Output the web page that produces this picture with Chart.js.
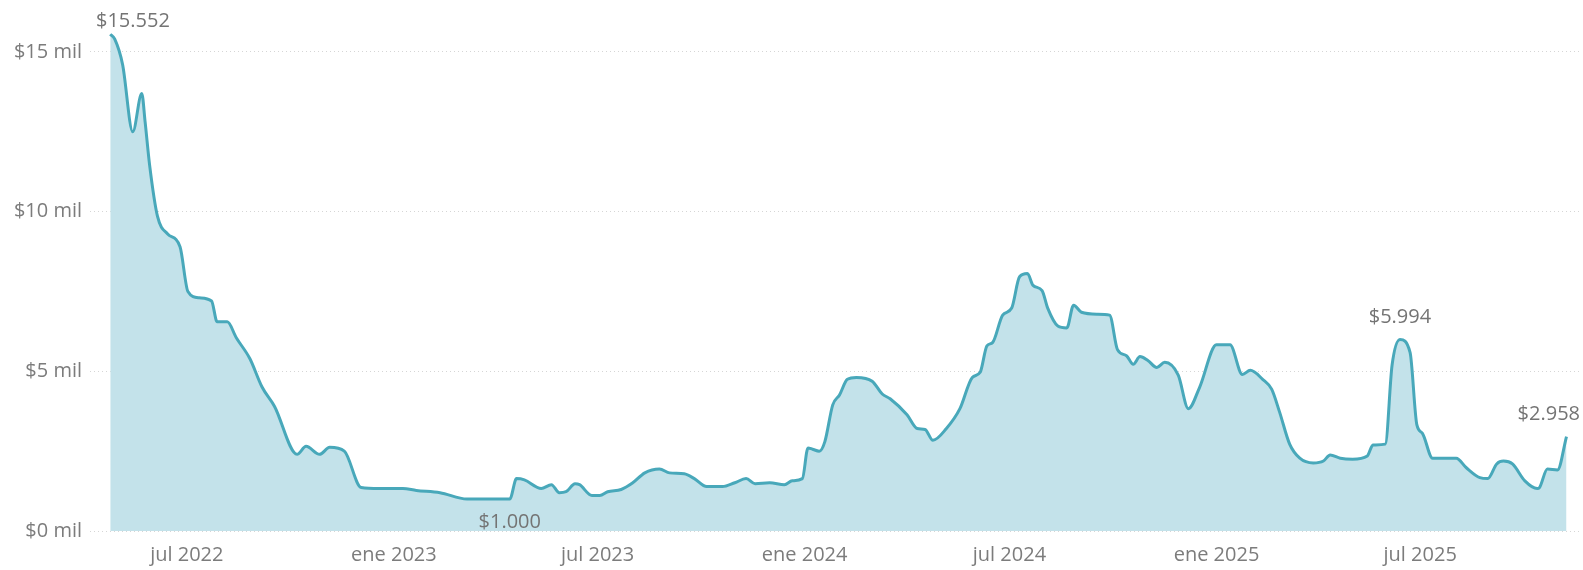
<!DOCTYPE html>
<html>
<head>
<meta charset="utf-8">
<script src="https://cdn.jsdelivr.net/npm/chart.js@4.4.1/dist/chart.umd.min.js"></script>
<style>
  html, body { margin: 0; padding: 0; background: #fff; }
  #wrap { width: 1583px; height: 570px; }
</style>
</head>
<body>
<div id="wrap"><canvas id="chart" width="1583" height="570"></canvas></div>
<script>
// Fechas y valores (dolares)
var dates = [
  '2022-04-24','2022-04-28','2022-05-05','2022-05-14','2022-05-22','2022-05-25','2022-05-29','2022-06-05',
  '2022-06-14','2022-06-25','2022-07-02','2022-07-12','2022-07-23','2022-07-28','2022-08-06','2022-08-14',
  '2022-08-26','2022-09-06','2022-09-17','2022-10-07','2022-10-15','2022-10-27','2022-11-05','2022-11-18',
  '2022-12-03','2022-12-19','2023-01-09','2023-01-21','2023-02-11','2023-03-07','2023-04-14','2023-04-20',
  '2023-04-27','2023-05-12','2023-05-21','2023-05-28','2023-06-03','2023-06-11','2023-06-15','2023-06-26',
  '2023-07-03','2023-07-10','2023-07-22','2023-08-01','2023-08-12','2023-08-25','2023-09-03','2023-09-16',
  '2023-09-25','2023-10-06','2023-10-20','2023-10-31','2023-11-10','2023-11-18','2023-12-01','2023-12-14',
  '2023-12-21','2023-12-30','2024-01-04','2024-01-08','2024-01-14','2024-01-19','2024-01-26','2024-02-01',
  '2024-02-08','2024-02-16','2024-03-01','2024-03-10','2024-03-17','2024-04-01','2024-04-10','2024-04-17',
  '2024-04-24','2024-05-06','2024-05-18','2024-05-29','2024-06-05','2024-06-11','2024-06-16','2024-06-25',
  '2024-07-03','2024-07-10','2024-07-17','2024-07-22','2024-07-30','2024-08-04','2024-08-13','2024-08-21',
  '2024-08-27','2024-09-03','2024-09-17','2024-09-28','2024-10-05','2024-10-13','2024-10-19','2024-10-25',
  '2024-11-01','2024-11-09','2024-11-16','2024-11-28','2024-12-07','2024-12-17','2025-01-01','2025-01-13',
  '2025-01-24','2025-01-31','2025-02-11','2025-02-19','2025-02-26','2025-03-07','2025-03-16','2025-03-28',
  '2025-04-06','2025-04-12','2025-04-21','2025-05-02','2025-05-15','2025-05-20','2025-05-31','2025-06-06',
  '2025-06-13','2025-06-22','2025-06-28','2025-07-03','2025-07-12','2025-08-02','2025-08-11','2025-08-23',
  '2025-08-30','2025-09-07','2025-09-13','2025-09-21','2025-10-02','2025-10-13','2025-10-15','2025-10-22',
  '2025-10-31','2025-11-08'
];
var sales = [
  15552, 15400, 14600, 12500, 13700, 12800, 11450, 9850,
  9300, 8900, 7500, 7300, 7200, 6550, 6550, 6050,
  5400, 4500, 3900, 2400, 2650, 2400, 2620, 2500,
  1360, 1330, 1330, 1270, 1200, 1000, 1000, 1640,
  1600, 1330, 1450, 1200, 1230, 1480, 1450, 1110,
  1110, 1230, 1300, 1500, 1820, 1940, 1820, 1790,
  1640, 1390, 1390, 1510, 1640, 1480, 1510, 1450,
  1570, 1640, 2600, 2560, 2500, 2800, 3950, 4260,
  4750, 4810, 4690, 4290, 4140, 3640, 3210, 3180,
  2840, 3210, 3830, 4810, 4970, 5800, 5900, 6760,
  6980, 7960, 8060, 7690, 7530, 6980, 6420, 6360,
  7070, 6850, 6790, 6760, 5680, 5490, 5220, 5460,
  5340, 5120, 5280, 4880, 3830, 4500, 5830, 5830,
  4900, 5030, 4750, 4440, 3730, 2720, 2280, 2130,
  2190, 2380, 2280, 2250, 2350, 2690, 2720, 5190,
  5994, 5590, 3330, 3060, 2280, 2280, 1980, 1670,
  1640, 2100, 2190, 2100, 1570, 1330, 1360, 1940,
  1910, 2958
];
var tickDates = ['2022-07-01','2023-01-01','2023-07-01','2024-01-01','2024-07-01','2025-01-01','2025-07-01'];
var tickLabels = ['jul 2022','ene 2023','jul 2023','ene 2024','jul 2024','ene 2025','jul 2025'];
var yTicks = [0, 5000, 10000, 15000];
var labelDates = ['2022-04-24','2023-04-14','2025-06-13','2025-11-08'];
var axisStart = '2022-04-06';
var axisEnd = '2025-11-20';

function toMs(s) { return new Date(s + 'T00:00:00Z').getTime(); }

function money(v) {
  return '$' + String(Math.round(v)).replace(/\B(?=(\d{3})+(?!\d))/g, '.');
}

var points = dates.map(function(d, i) { return { x: toMs(d), y: sales[i] }; });
var tickMs = tickDates.map(toMs);
var minVal = Math.min.apply(null, sales);

var fontFamily = '"Open Sans", "Noto Sans", sans-serif';

// etiquetas de datos (inicio/max, min, pico, final)
var pointLabels = {
  id: 'pointLabels',
  afterDatasetsDraw: function(chart) {
    var ctx = chart.ctx;
    var meta = chart.getDatasetMeta(0);
    var area = chart.chartArea;
    ctx.save();
    ctx.font = '20px ' + fontFamily;
    ctx.fillStyle = '#747474';
    ctx.textAlign = 'left';
    ctx.textBaseline = 'middle';
    labelDates.forEach(function(d) {
      var i = dates.indexOf(d);
      if (i < 0) return;
      var el = meta.data[i];
      var txt = money(sales[i]);
      var w = ctx.measureText(txt).width;
      var x = el.x - w / 2;
      if (x < area.left + 6) x = area.left + 6;
      if (x + w > chart.width - 3) x = chart.width - 3 - w;
      var y = sales[i] === minVal ? el.y + 23 : el.y - 22;
      if (y < 21) y = 21;
      ctx.fillText(txt, x, y);
    });
    ctx.restore();
  }
};

var ctx = document.getElementById('chart').getContext('2d');
var chart = new Chart(ctx, {
  type: 'line',
  data: {
    datasets: [{
      label: 'Ventas',
      data: points,
      borderColor: '#48a8ba',
      backgroundColor: '#c3e2ea',
      borderWidth: 3,
      fill: 'origin',
      pointRadius: 0,
      cubicInterpolationMode: 'monotone'
    }]
  },
  options: {
    responsive: false,
    animation: false,
    devicePixelRatio: 1,
    layout: { padding: { top: 13, bottom: 2, left: 0, right: 3 } },
    plugins: {
      legend: { display: false },
      tooltip: { enabled: false }
    },
    scales: {
      x: {
        type: 'linear',
        min: toMs(axisStart),
        max: toMs(axisEnd),
        afterBuildTicks: function(scale) {
          scale.ticks = tickMs.map(function(v) { return { value: v }; });
        },
        afterFit: function(scale) { scale.height = 37; },
        ticks: {
          autoSkip: false,
          maxRotation: 0,
          padding: 12,
          color: '#7c7c7c',
          font: { family: fontFamily, size: 20 },
          callback: function(value) {
            var i = tickMs.indexOf(value);
            return i >= 0 ? tickLabels[i] : '';
          }
        },
        grid: { display: false, drawTicks: false },
        border: { display: false }
      },
      y: {
        min: 0,
        max: 16000,
        afterBuildTicks: function(scale) {
          scale.ticks = yTicks.map(function(v) { return { value: v }; });
        },
        afterFit: function(scale) { scale.width = 90; },
        ticks: {
          padding: 8,
          color: '#7c7c7c',
          font: { family: fontFamily, size: 20 },
          callback: function(value) { return '$' + (value / 1000) + ' mil'; }
        },
        grid: { color: '#d6d6d6', lineWidth: 1, drawTicks: false },
        border: { display: false, dash: [1, 3] }
      }
    }
  },
  plugins: [pointLabels]
});
</script>
</body>
</html>
